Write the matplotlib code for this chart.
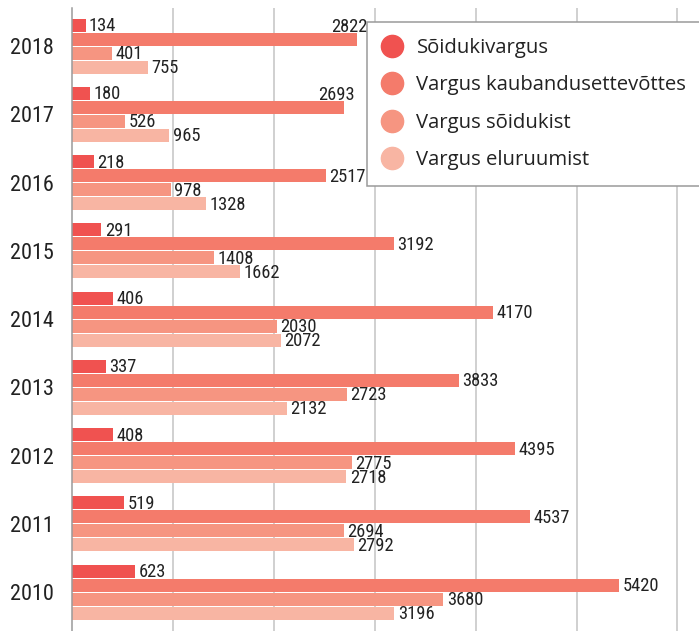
import numpy as np
import matplotlib
matplotlib.use("Agg")
import matplotlib.pyplot as plt
from matplotlib.lines import Line2D
from matplotlib import font_manager

# ──────────────────────────────────────────────────────────────────────────
# Data (top to bottom)
# ──────────────────────────────────────────────────────────────────────────
years = ["2018", "2017", "2016", "2015", "2014", "2013", "2012", "2011", "2010"]
series_names = ["Sõidukivargus", "Vargus kaubandusettevõttes",
                "Vargus sõidukist", "Vargus eluruumist"]
soidukivargus = [134, 180, 218, 291, 406, 337, 408, 519, 623]
kaubandus = [2822, 2693, 2517, 3192, 4170, 3833, 4395, 4537, 5420]
soidukist = [401, 526, 978, 1408, 2030, 2723, 2775, 2694, 3680]
eluruumist = [755, 965, 1328, 1662, 2072, 2132, 2718, 2792, 3196]
series = [soidukivargus, kaubandus, soidukist, eluruumist]
colors = ["#f05250", "#f47b6b", "#f69581", "#f8b5a3"]

# labels that the legend would hide get moved up onto the first row
moved_labels = {(0, 1), (1, 1)}

installed = {f.name for f in font_manager.fontManager.ttflist}
narrow = [f for f in ["Liberation Sans Narrow", "DejaVu Sans Condensed",
                      "Roboto Condensed", "Lato"] if f in installed]
NUM_FONT = narrow[:1] + ["DejaVu Sans"]
TXT_FONT = ["Open Sans", "DejaVu Sans"]

fig = plt.figure(figsize=(6.99, 6.31), dpi=100)
ax = fig.add_axes([72 / 699, 0, 1 - 72 / 699, 1 - 8 / 631])

bar_step = 14 / 68.25
bar_h = 13 / 68.25
ypos = np.arange(len(years))

for k, (vals, color) in enumerate(zip(series, colors)):
    y = ypos + (k - 1.5) * bar_step
    ax.barh(y, vals, height=bar_h, color=color, zorder=2)
    for i, v in enumerate(vals):
        if (i, k) in moved_labels:
            ax.annotate(str(v), (v, ypos[i] - 1.5 * bar_step), xytext=(8, -1.5),
                        textcoords="offset points", ha="right", va="center",
                        fontsize=13.3, family=NUM_FONT, color="#222222", zorder=3)
        else:
            ax.annotate(str(v), (v, y[i]), xytext=(2.5, -0.8),
                        textcoords="offset points", ha="left", va="center",
                        fontsize=13.3, family=NUM_FONT, color="#222222", zorder=3)

ax.set_xlim(0, 6214)
ax.set_ylim(8.571, -0.557)
ax.set_xticks(np.arange(1000, 7000, 1000))
ax.tick_params(axis="x", length=0, labelbottom=False)
ax.grid(axis="x", color="#c4c4c4", linewidth=1.1, zorder=0)
ax.set_axisbelow(True)

ax.set_yticks(ypos)
ax.set_yticklabels(years, fontsize=16, family=NUM_FONT, color="#222222")
ax.tick_params(axis="y", length=0, pad=13)

for side in ["top", "right", "bottom"]:
    ax.spines[side].set_visible(False)
ax.spines["left"].set_color("#9a9a9a")
ax.spines["left"].set_linewidth(1.1)

handles = [Line2D([], [], marker="o", linestyle="none", markersize=16,
                  markerfacecolor=c, markeredgecolor=c) for c in colors]
leg = fig.legend(handles, series_names, loc="upper left",
                 bbox_to_anchor=(367 / 699, 1 - 22 / 631), borderaxespad=0,
                 prop={"family": TXT_FONT, "size": 14.6},
                 borderpad=0.78, handlelength=0.87, handletextpad=0.79,
                 labelspacing=0.86, fancybox=False, framealpha=1,
                 edgecolor="#9a9a9a")
leg.get_frame().set_linewidth(1.1)
for t in leg.get_texts():
    t.set_color("#222222")

fig.savefig("out.png", dpi=100)
